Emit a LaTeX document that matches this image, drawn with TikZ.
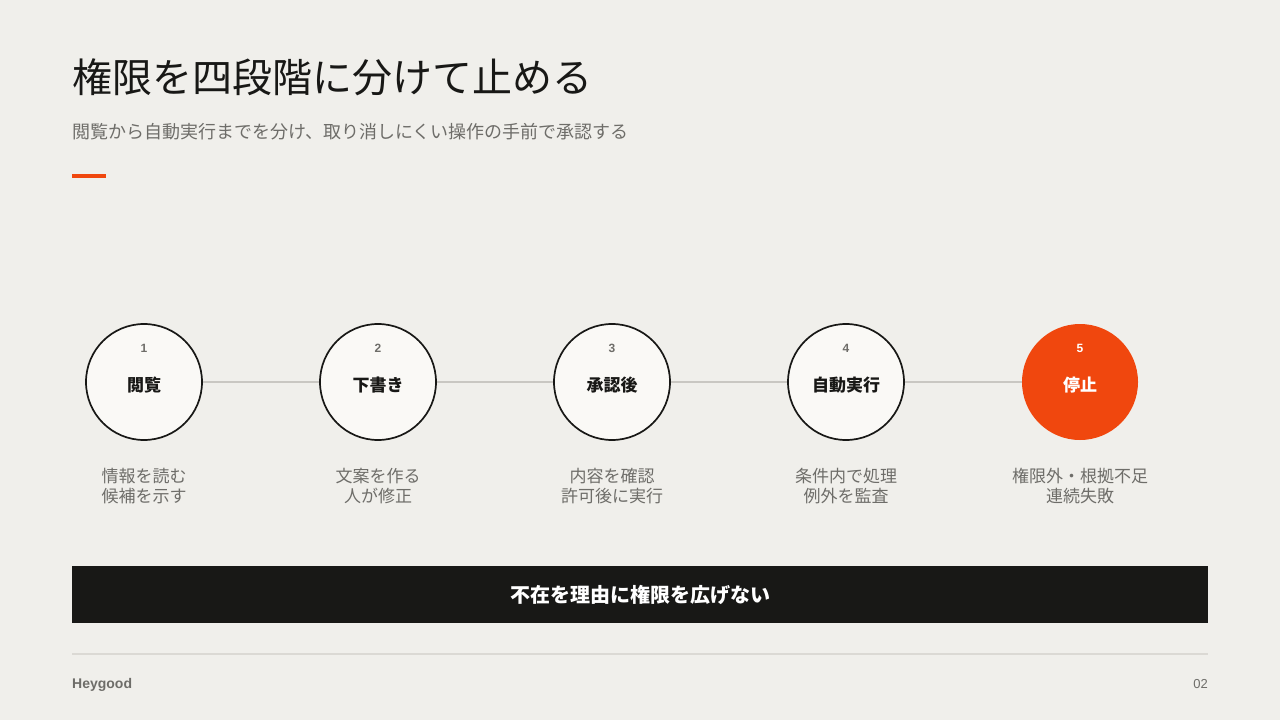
\documentclass[tikz,border=0pt]{standalone}
\usepackage{fontspec}
\setmainfont{Noto Sans CJK JP}
\newfontfamily\latinfont{Liberation Sans}
\usetikzlibrary{calc}
\definecolor{paper}{HTML}{F0EFEB}
\definecolor{ink}{HTML}{181816}
\definecolor{signal}{HTML}{F0470E}
\definecolor{muted}{HTML}{6E6D69}
\definecolor{rail}{HTML}{C9C7C2}
\definecolor{discfill}{HTML}{FAF9F6}
\definecolor{rule}{HTML}{DBD9D4}
\tikzset{
  stage/.style={circle,draw=ink,line width=1.7pt,fill=discfill,minimum size=116pt,inner sep=0pt},
  stagestop/.style={circle,fill=signal,minimum size=116pt,inner sep=0pt},
  stagenum/.style={font=\latinfont\bfseries\fontsize{12}{14}\selectfont,text=muted},
  stagename/.style={font=\bfseries\fontsize{17}{20}\selectfont,text=ink},
  stagenote/.style={font=\fontsize{17}{20}\selectfont,text=muted,align=center}
}
\begin{document}
\begin{tikzpicture}[x=1pt,y=-1pt]
			% canvas
			\fill[paper] (0,0) rectangle (1280,720);
			\useasboundingbox (0,0) rectangle (1280,720);
			% heading
			\node[anchor=base west,inner sep=0pt,text=ink,font=\fontsize{40}{48}\selectfont] (title) at (72,92) {権限を四段階に分けて止める};
			\node[anchor=base west,inner sep=0pt,text=muted,font=\fontsize{18}{21}\selectfont] (subtitle) at (72,138) {閲覧から自動実行までを分け、取り消しにくい操作の手前で承認する};
			\fill[signal] (72,174) rectangle (106,178);
			% stages
			\def\railY{382}
			\foreach \i/\x/\name in {1/144/閲覧,2/378/下書き,3/612/承認後,4/846/自動実行}{
				\node[stage] (s\i) at (\x,\railY) {};
				\node[stagenum] (n\i) at (\x,348) {\i};
				\node[stagename,anchor=base] (l\i) at (\x,391.5) {\name};
			}
			\node[stagestop] (s5) at (1080,\railY) {};
			\node[stagenum,text=white] (n5) at (1080,348) {5};
			\node[stagename,anchor=base,text=white] (l5) at (1080,391.5) {停止};
			\foreach \a/\b in {1/2,2/3,3/4,4/5}{
				\draw[rail,line width=2.5pt] (s\a) -- (s\b);
			}
			% notes
			\node[stagenote] (d1) at (144,486) {情報を読む\\候補を示す};
			\node[stagenote] (d2) at (378,486) {文案を作る\\人が修正};
			\node[stagenote] (d3) at (612,486) {内容を確認\\許可後に実行};
			\node[stagenote] (d4) at (846,486) {条件内で処理\\例外を監査};
			\node[stagenote] (d5) at (1080,486) {権限外・根拠不足\\連続失敗};
			% banner
			\fill[ink] (72,566) rectangle (1208,623);
			\node[text=white,font=\bfseries\fontsize{20}{23}\selectfont] (banner) at (640,594.5) {不在を理由に権限を広げない};
			% footer
			\draw[rule,line width=2pt] (72,654) -- (1208,654);
			\node[anchor=base west,inner sep=0pt,text=muted,font=\latinfont\bfseries\fontsize{14}{16}\selectfont] (brand) at (72,688) {Heygood};
			\node[anchor=base east,inner sep=0pt,text=muted,font=\latinfont\fontsize{13}{15}\selectfont] (page) at (1208,688) {02};
		\end{tikzpicture}
\end{document}
